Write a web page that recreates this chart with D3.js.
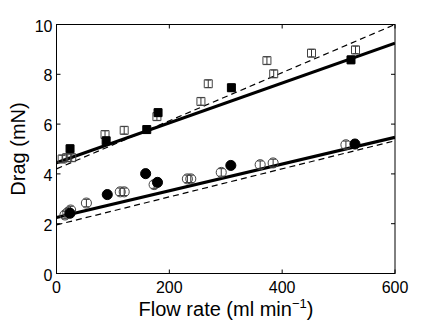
<!DOCTYPE html>
<html>
<head>
<meta charset="utf-8">
<script src="https://cdn.jsdelivr.net/npm/d3@7"></script>
<style>
  body { margin: 0; background: #fff; }
  text { font-family: "Liberation Sans", Arial, sans-serif; }
</style>
</head>
<body>
<div id="chart"></div>
<script>
// flow rate (ml/min) and drag (mN) for each series
const openSqX = [10, 18, 27, 86, 120, 178, 256, 269, 373, 385, 452, 530];
const openSqY = [4.6, 4.65, 4.65, 5.58, 5.75, 6.3, 6.91, 7.62, 8.55, 8.02, 8.85, 8.98];
const fillSqX = [24, 88, 160, 180, 310, 522];
const fillSqY = [5.01, 5.33, 5.78, 6.46, 7.46, 8.58];
const openCiX = [15, 20, 25, 53, 113, 120, 173, 232, 238, 292, 361, 384, 513];
const openCiY = [2.35, 2.45, 2.55, 2.83, 3.28, 3.28, 3.57, 3.8, 3.8, 4.06, 4.37, 4.44, 5.17];
const fillCiX = [24, 90, 158, 179, 309, 529];
const fillCiY = [2.42, 3.17, 4.01, 3.66, 4.34, 5.2];
const errBar = 0.15;

// fitted lines: [intercept, value at 600]
const upperSolid = [4.45, 9.25];
const upperDash = [4.2, 10.0];
const lowerSolid = [2.25, 5.47];
const lowerDash = [1.95, 5.33];

const xTicks = [0, 200, 400, 600];
const yTicks = [0, 2, 4, 6, 8, 10];

const width = 436, height = 325;
const margin = { left: 56.5, right: 41, top: 24.5, bottom: 51.5 };

const svg = d3.select('#chart').append('svg')
  .attr('width', width).attr('height', height);

const x = d3.scaleLinear().domain([0, 600]).range([margin.left, width - margin.right]);
const y = d3.scaleLinear().domain([0, 10]).range([height - margin.bottom, margin.top]);

// frame
svg.append('rect')
  .attr('x', x(0)).attr('y', y(10))
  .attr('width', x(600) - x(0)).attr('height', y(0) - y(10))
  .attr('fill', 'none').attr('stroke', '#000').attr('stroke-width', 1);

// inward ticks on all four sides
const tk = 4;
xTicks.forEach(t => {
  svg.append('line').attr('x1', x(t)).attr('x2', x(t)).attr('y1', y(0)).attr('y2', y(0) - tk).attr('stroke', '#000');
  svg.append('line').attr('x1', x(t)).attr('x2', x(t)).attr('y1', y(10)).attr('y2', y(10) + tk).attr('stroke', '#000');
  svg.append('text').attr('x', x(t)).attr('y', y(0) + 19)
    .attr('text-anchor', 'middle').style('font-size', '16px').text(t);
});
yTicks.forEach(t => {
  svg.append('line').attr('x1', x(0)).attr('x2', x(0) + tk).attr('y1', y(t)).attr('y2', y(t)).attr('stroke', '#000');
  svg.append('line').attr('x1', x(600)).attr('x2', x(600) - tk).attr('y1', y(t)).attr('y2', y(t)).attr('stroke', '#000');
  svg.append('text').attr('x', x(0) - 4).attr('y', y(t) + 7)
    .attr('text-anchor', 'end').style('font-size', '16px').text(t);
});

// axis titles
const xl = svg.append('text').attr('x', 226).attr('y', 316)
  .attr('text-anchor', 'middle').style('font-size', '20px');
xl.append('tspan').text('Flow rate (ml min');
xl.append('tspan').attr('dy', -8).style('font-size', '13px').text('\u22121');
xl.append('tspan').attr('dy', 8).text(')');

svg.append('text')
  .attr('transform', `translate(25, ${y(5)}) rotate(-90)`)
  .attr('text-anchor', 'middle').style('font-size', '20px').text('Drag (mN)');

// fit lines
svg.append('clipPath').attr('id', 'clip').append('rect')
  .attr('x', x(0)).attr('y', y(10)).attr('width', x(600) - x(0)).attr('height', y(0) - y(10));
function fitLine(p, w, dash) {
  svg.append('line')
    .attr('clip-path', 'url(#clip)')
    .attr('x1', x(0)).attr('y1', y(p[0])).attr('x2', x(600)).attr('y2', y(p[1]))
    .attr('stroke', '#000').attr('stroke-width', w)
    .attr('stroke-dasharray', dash ? '6,4' : null);
}
fitLine(upperDash, 1.2, true);
fitLine(lowerDash, 1.2, true);
fitLine(upperSolid, 3.2, false);
fitLine(lowerSolid, 3.2, false);

// markers with error bars
function series(xs, ys, shape, filled) {
  const pts = xs.map((v, i) => ({ x: v, y: ys[i] }));
  const g = svg.append('g');
  pts.forEach(d => {
    const cx = x(d.x);
    g.append('line').attr('x1', cx).attr('x2', cx)
      .attr('y1', y(d.y - errBar)).attr('y2', y(d.y + errBar)).attr('stroke', '#333');
    [d.y - errBar, d.y + errBar].forEach(e => {
      g.append('line').attr('x1', cx - 3).attr('x2', cx + 3)
        .attr('y1', y(e)).attr('y2', y(e)).attr('stroke', '#333');
    });
  });
  const sym = d3.symbol().type(shape === 'square' ? d3.symbolSquare : d3.symbolCircle)
    .size(shape === 'square' ? 64 : 80);
  g.selectAll('path.m').data(pts).join('path')
    .attr('class', 'm')
    .attr('transform', d => `translate(${x(d.x)},${y(d.y)})`)
    .attr('d', sym)
    .attr('fill', filled ? '#000' : 'none')
    .attr('stroke', filled ? '#000' : '#444')
    .attr('stroke-width', 1);
}
series(openSqX, openSqY, 'square', false);
series(openCiX, openCiY, 'circle', false);
series(fillSqX, fillSqY, 'square', true);
series(fillCiX, fillCiY, 'circle', true);
</script>
</body>
</html>
